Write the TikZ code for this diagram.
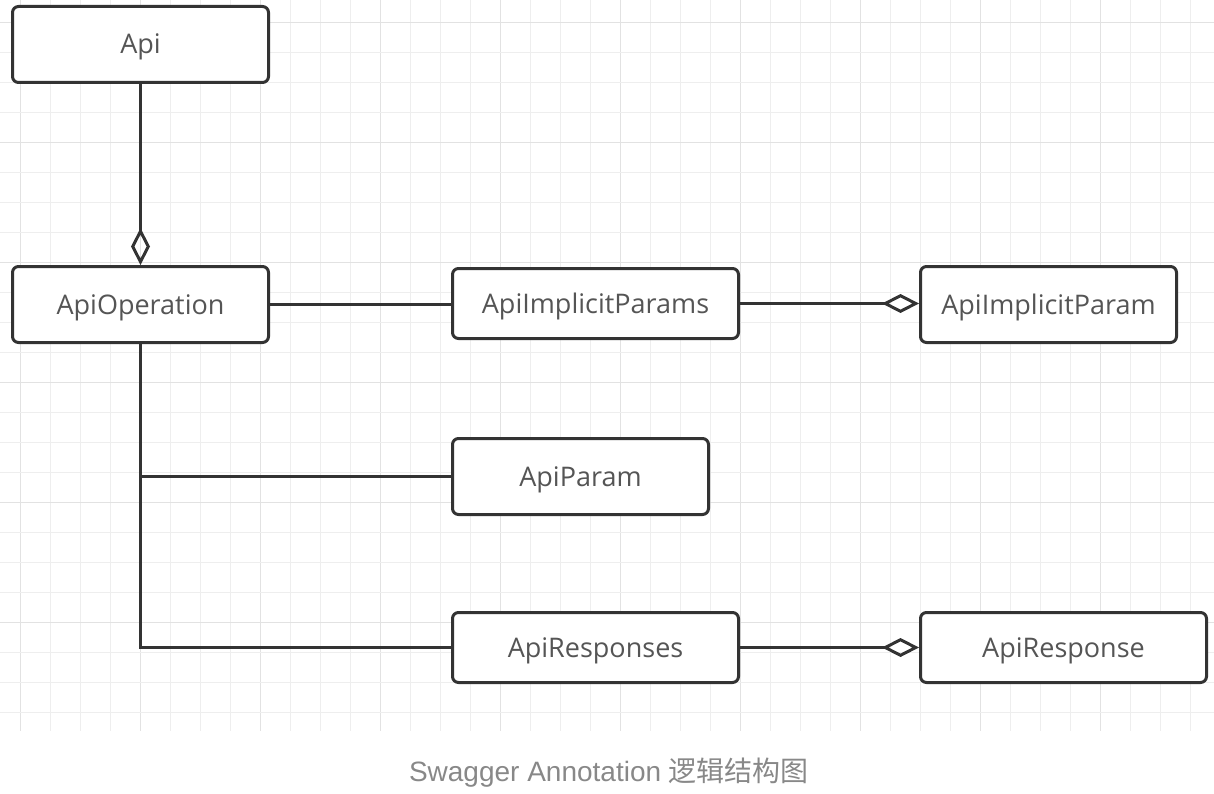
\documentclass[tikz,border=0pt]{standalone}
\usepackage{fontspec}
\setmainfont{Open Sans}
\newfontfamily\captionfont{Liberation Sans}
\newfontfamily\cjk{Noto Sans CJK SC}
\usetikzlibrary{arrows.meta,positioning}

\definecolor{gridminor}{HTML}{EEEEEE}
\definecolor{gridmajor}{HTML}{E2E2E2}
\definecolor{umlline}{HTML}{333333}
\definecolor{umltext}{HTML}{555555}
\definecolor{captiongray}{HTML}{888888}

\tikzset{
  classbox/.style={rectangle, draw=umlline, line width=3pt, rounded corners=6pt, fill=white,
    text=umltext, font=\fontsize{27}{32}\selectfont, text height=19pt, text depth=0pt,
    minimum width=256pt, minimum height=76pt, inner sep=0pt},
  widebox/.style={classbox, minimum width=286pt, minimum height=70pt},
  link/.style={draw=umlline, line width=3pt},
  aggregation/.style={link, -{Diamond[open, length=37pt, width=19pt]}}
}

\begin{document}
\begin{tikzpicture}[x=1pt, y=-1pt]
\useasboundingbox (0,0) rectangle (1214,794);

% Background grid
\foreach \k in {0,...,39} {
  \pgfmathtruncatemacro{\major}{mod(\k,4)==0}
  \ifnum\major=1 \def\gcol{gridmajor}\else\def\gcol{gridminor}\fi
  \draw[\gcol, line width=1.5pt] (20.7+30*\k,0) -- (20.7+30*\k,731);
}
\foreach \k in {0,...,23} {
  \pgfmathtruncatemacro{\major}{mod(\k,4)==0}
  \ifnum\major=1 \def\gcol{gridmajor}\else\def\gcol{gridminor}\fi
  \draw[\gcol, line width=1.5pt] (0,22.7+30*\k) -- (1214,22.7+30*\k);
}

% Annotation classes
\node[classbox] (api) at (140.5,44.5) {Api};
\node[classbox] (operation) at (140.5,304.5) {ApiOperation};
\node[widebox] (implicitparams) at (595.5,303.5) {ApiImplicitParams};
\node[classbox] (implicitparam) at (1048.5,304.5) {ApiImplicitParam};
\node[classbox] (param) at (580.5,476.5) {ApiParam};
\node[widebox] (responses) at (595.5,647.5) {ApiResponses};
\node[widebox] (response) at (1063.5,647.5) {ApiResponse};

% Connectors
\draw[aggregation] (api.south) -- (operation.north);
\draw[link] (operation.east) -- (operation.east -| implicitparams.west);
\draw[aggregation] (implicitparams.east) -- (implicitparams.east -| implicitparam.west);
\draw[link] (operation.south) |- (responses.west);
\coordinate (branch) at (operation.south |- param.west);
\draw[link] (branch) -- (param.west);
\draw[aggregation] (responses.east) -- (response.west);

% Caption
\node[text=captiongray, font=\fontsize{28}{33}\selectfont] (caption) at (609,773) {\captionfont Swagger Annotation \cjk 逻辑结构图};
\end{tikzpicture}
\end{document}
